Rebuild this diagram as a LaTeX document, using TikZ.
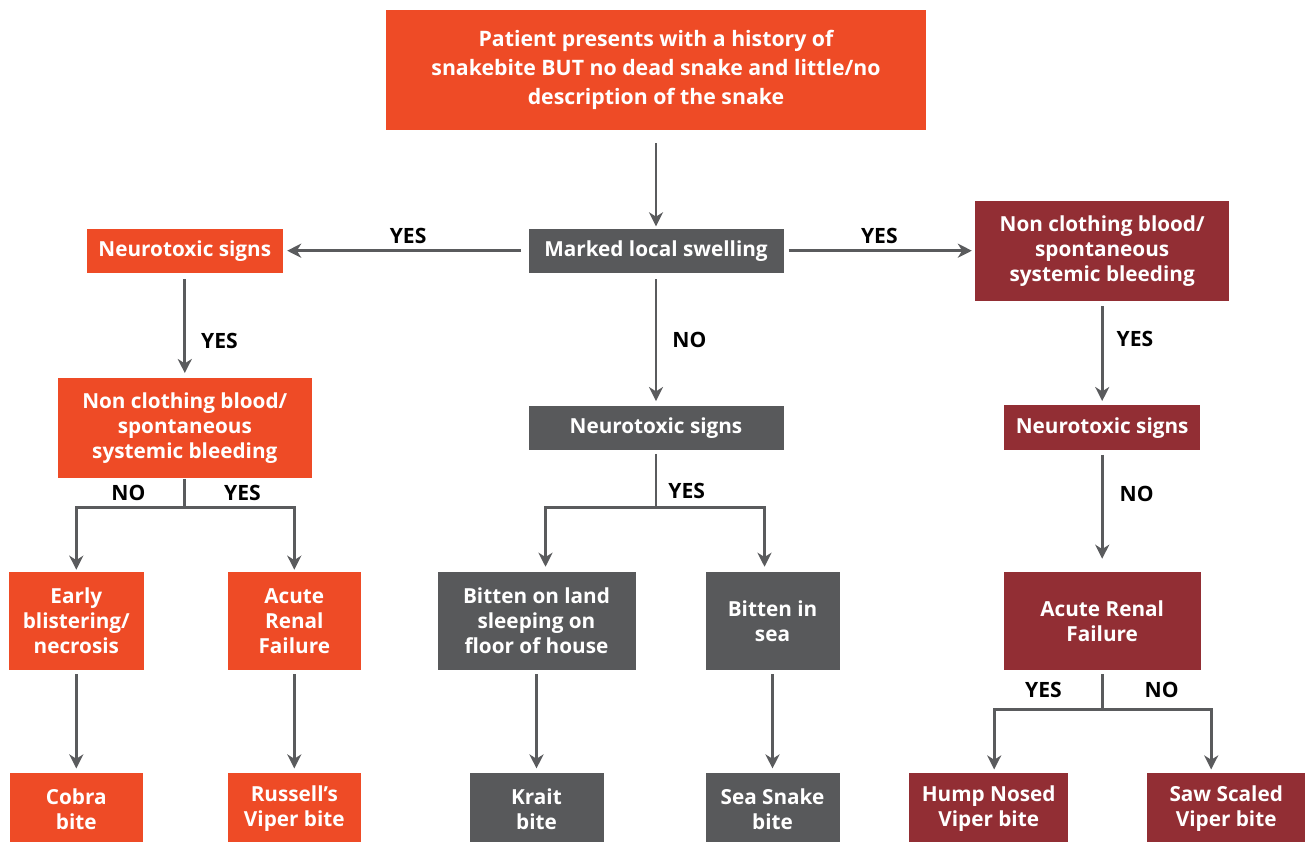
\documentclass[tikz,border=0pt]{standalone}
\usepackage{fontspec}
\setmainfont{Open Sans}
\usepackage{tikz}
\usetikzlibrary{positioning,arrows.meta}
\definecolor{snakeorange}{HTML}{EE4B26}
\definecolor{snakegray}{HTML}{58595B}
\definecolor{snakered}{HTML}{922E34}
\definecolor{arrowgray}{HTML}{5A5B5D}
\tikzset{
	mybox/.style={draw=none,text=white,align=center,inner sep=0pt,font=\bfseries\fontsize{11.8}{14.2}\selectfont},
	orangebox/.style={mybox,fill=snakeorange},
	graybox/.style={mybox,fill=snakegray},
	redbox/.style={mybox,fill=snakered},
	myarrow/.style={-{Stealth[length=8pt,width=8pt,inset=2.5pt]},draw=arrowgray,line width=1.6pt},
	mylabel/.style={font=\bfseries\fontsize{12}{13}\selectfont,text=black,inner sep=0pt}
}

\begin{document}
\begin{tikzpicture}
		\useasboundingbox (0,0) rectangle (26.2,-16.84);
		\node[orangebox,minimum width=10.8cm,minimum height=2.4cm,font=\bfseries\fontsize{12.1}{16.6}\selectfont](patient) at (13.12,-1.4){Patient presents with a history of\\snakebite BUT no dead snake and little/no\\description of the snake};
		\node[graybox,below = 1.96 cm of patient,minimum width=5.1cm,minimum height=0.88cm](swelling){Marked local swelling};
		\draw[myarrow,shorten <=0.26cm,shorten >=0.04cm] (patient) -- (swelling);
		\node[orangebox,left = 4.9 cm of swelling,minimum width=3.92cm,minimum height=0.88cm](neuroL){Neurotoxic signs};
		\draw[myarrow,shorten <=0.14cm,shorten >=0.08cm] (swelling) -- (neuroL) node[mylabel,pos=0.49,above=0.12cm]{YES};
		\node[redbox,right = 3.82 cm of swelling,minimum width=5.08cm,minimum height=2cm](bleedR){Non clothing blood/\\spontaneous\\systemic bleeding};
		\draw[myarrow,shorten <=0.1cm,shorten >=0.06cm] (swelling) -- (bleedR) node[mylabel,pos=0.5,above=0.12cm]{YES};
		\node[graybox,below = 2.66 cm of swelling,minimum width=5.1cm,minimum height=0.88cm](neuroM){Neurotoxic signs};
		\draw[myarrow,shorten <=0.12cm,shorten >=0.1cm] (swelling) -- (neuroM) node[mylabel,midway,right=0.3cm]{NO};
		\node[orangebox,below = 2.1 cm of neuroL,minimum width=5.08cm,minimum height=2cm](bleedL){Non clothing blood/\\spontaneous\\systemic bleeding};
		\draw[myarrow,shorten <=0.12cm,shorten >=0.1cm] (neuroL) -- (bleedL) node[mylabel,pos=0.65,right=0.3cm]{YES};
		\node[redbox,below = 2.08 cm of bleedR,minimum width=3.92cm,minimum height=0.9cm](neuroR){Neurotoxic signs};
		\draw[myarrow,shorten <=0.1cm,shorten >=0.08cm] (bleedR) -- (neuroR) node[mylabel,pos=0.36,right=0.26cm]{YES};
		% third row
		\node[orangebox,below = 1.86 cm of bleedL,xshift=-2.17cm,minimum width=2.7cm,minimum height=1.96cm](blister){Early\\blistering/\\necrosis};
		\node[orangebox,below = 1.86 cm of bleedL,xshift=2.19cm,minimum width=2.66cm,minimum height=1.96cm](renalL){Acute\\Renal\\Failure};
		\draw[myarrow,shorten >=0.04cm] (bleedL.south) -- node[mylabel,left=0.76cm]{NO} node[mylabel,right=0.76cm]{YES} ++(0,-0.58) -| (blister.north);
		\draw[myarrow,shorten >=0.04cm] (bleedL.south) ++(0,-0.58) -| (renalL.north);
		\node[graybox,below = 2.42 cm of neuroM,xshift=-2.39cm,minimum width=3.96cm,minimum height=1.96cm](land){Bitten on land\\sleeping on\\floor of house};
		\node[graybox,below = 2.42 cm of neuroM,xshift=2.33cm,minimum width=2.68cm,minimum height=1.96cm](sea){Bitten in\\sea};
		\draw[myarrow,shorten <=0.06cm,shorten >=0.1cm] (neuroM.south) -- node[mylabel,pos=0.7,right=0.22cm]{YES} ++(0,-1.14) -| ([xshift=0.18cm]land.north);
		\draw[myarrow,shorten >=0.1cm] (neuroM.south) ++(0,-1.14) -| ([xshift=-0.16cm]sea.north);
		\node[redbox,below = 2.42 cm of neuroR,minimum width=3.94cm,minimum height=1.96cm](renalR){Acute Renal\\Failure};
		\draw[myarrow,shorten <=0.08cm,shorten >=0.26cm] (neuroR) -- (renalR) node[mylabel,pos=0.36,right=0.32cm]{NO};
		% last row
		\node[orangebox,below = 2.04 cm of blister,minimum width=2.66cm,minimum height=1.44cm](cobra){Cobra\\bite};
		\draw[myarrow,shorten <=0.08cm,shorten >=0.08cm] (blister) -- (cobra);
		\node[orangebox,below = 2.04 cm of renalL,minimum width=2.66cm,minimum height=1.44cm](russell){Russell’s\\Viper bite};
		\draw[myarrow,shorten <=0.08cm,shorten >=0.08cm] (renalL) -- (russell);
		\node[graybox,below = 2.04 cm of land,minimum width=2.68cm,minimum height=1.44cm](krait){Krait\\bite};
		\draw[myarrow,shorten <=0.08cm,shorten >=0.08cm] (land) -- (krait);
		\node[graybox,below = 2.04 cm of sea,minimum width=2.68cm,minimum height=1.44cm](seasnake){Sea Snake\\bite};
		\draw[myarrow,shorten <=0.08cm,shorten >=0.08cm] (sea) -- (seasnake);
		\node[redbox,below = 2.04 cm of renalR,xshift=-2.27cm,minimum width=3.18cm,minimum height=1.44cm](hump){Hump Nosed\\Viper bite};
		\node[redbox,below = 2.04 cm of renalR,xshift=2.48cm,minimum width=3.16cm,minimum height=1.44cm](saw){Saw Scaled\\Viper bite};
		\draw[myarrow,shorten <=0.08cm,shorten >=0.06cm] (renalR.south) -- node[mylabel,left=0.78cm]{YES} node[mylabel,right=0.82cm]{NO} ++(0,-0.78) -| ([xshift=0.11cm]hump.north);
		\draw[myarrow,shorten >=0.06cm] (renalR.south) ++(0,-0.78) -| ([xshift=-0.3cm]saw.north);
	\end{tikzpicture}
\end{document}
